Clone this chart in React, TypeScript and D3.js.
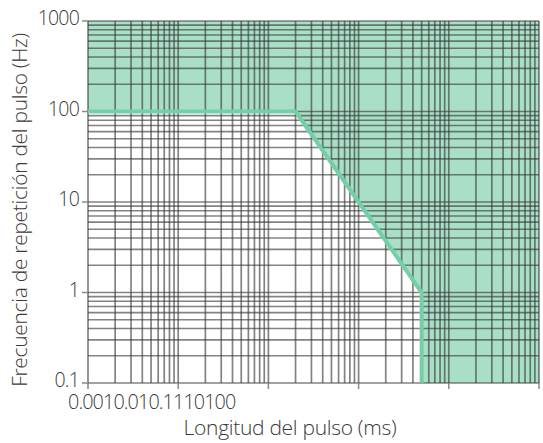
import React from "react";
import * as d3 from "d3";

const xTickValues = [0.001, 0.01, 0.1, 1, 10, 100];
const xTickLabels = ["0.001", "0.01", "0.1", "1", "10", "100"];
const yTickValues = [0.1, 1, 10, 100, 1000];
const yTickLabels = ["0.1", "1", "10", "100", "1000"];
const limitPulseMs = [0.001, 0.2, 5, 5];
const limitFreqHz = [100, 100, 1, 0.1];

const W = 543;
const H = 443;
const FONT = "'Open Sans', 'DejaVu Sans', sans-serif";
const TXT = "#3a3a3a";

export default function App() {
  const x = d3.scaleLog().domain([0.001, 100]).range([88, 539]);
  const y = d3.scaleLog().domain([0.1, 1000]).range([383, 21]);
  const xGrid = x.ticks();
  const yGrid = y.ticks();

  const boundary: [number, number][] = limitPulseMs.map((p, i) => [p, limitFreqHz[i]]);
  const [x0, x1] = x.domain();
  const [y0, y1] = y.domain();
  const fillPts: [number, number][] = [...boundary, [x1, y0], [x1, y1], [x0, y1]];
  const line = d3
    .line<[number, number]>()
    .x((d) => x(d[0]))
    .y((d) => y(d[1]));

  const gridStroke = "rgba(55,55,55,0.62)";

  return (
    <div style={{ position: "fixed", left: 0, top: 0 }}>
      <svg width={W} height={H} style={{ display: "block", background: "#fff" }}>
        <path d={line(fillPts) + "Z"} fill="#a9dfc7" stroke="none" />
        <g>
          {xGrid.map((v, i) => (
            <line key={"vx" + i} x1={x(v)} x2={x(v)} y1={y(y1)} y2={y(y0)} stroke={gridStroke} strokeWidth={1.7} />
          ))}
          {yGrid.map((v, i) => (
            <line key={"hy" + i} x1={x(x0)} x2={x(x1)} y1={y(v)} y2={y(v)} stroke={gridStroke} strokeWidth={1.7} />
          ))}
        </g>
        <path d={line(boundary) ?? ""} fill="none" stroke="#74cfa9" strokeWidth={4} strokeLinejoin="round" />
        {yTickValues.map((v, i) => (
          <line key={"yt" + i} x1={82} x2={x(x0)} y1={y(v)} y2={y(v)} stroke="#888" strokeWidth={1.5} />
        ))}
        {xTickValues.map((v, i) => (
          <line key={"xt" + i} x1={x(v)} x2={x(v)} y1={y(y0)} y2={y(y0) + 6} stroke="#888" strokeWidth={1.5} />
        ))}
        {yTickValues.map((v, i) => (
          <text
            key={"yl" + i}
            x={79}
            y={y(v) - 1}
            textAnchor="end"
            dominantBaseline="middle"
            fontFamily={FONT}
            fontWeight={300}
            fontSize={19.5}
            letterSpacing={-0.8}
            fill={TXT}
          >
            {yTickLabels[i]}
          </text>
        ))}
        <text x={68} y={409} fontFamily={FONT} fontWeight={300} fontSize={19.8} letterSpacing={-0.9} fill={TXT}>
          {xTickLabels.map((t, i) => (
            <tspan key={"xl" + i}>{t}</tspan>
          ))}
        </text>
        <text x={290} y={435} textAnchor="middle" fontFamily={FONT} fontWeight={300} fontSize={21} letterSpacing={-0.3} fill={TXT}>
          Longitud del pulso (ms)
        </text>
        <text
          transform="translate(21,210) rotate(-90)"
          textAnchor="middle"
          dominantBaseline="middle"
          fontFamily={FONT}
          fontWeight={300}
          fontSize={21}
          letterSpacing={-0.3}
          fill={TXT}
        >
          Frecuencia de repetición del pulso (Hz)
        </text>
      </svg>
    </div>
  );
}
